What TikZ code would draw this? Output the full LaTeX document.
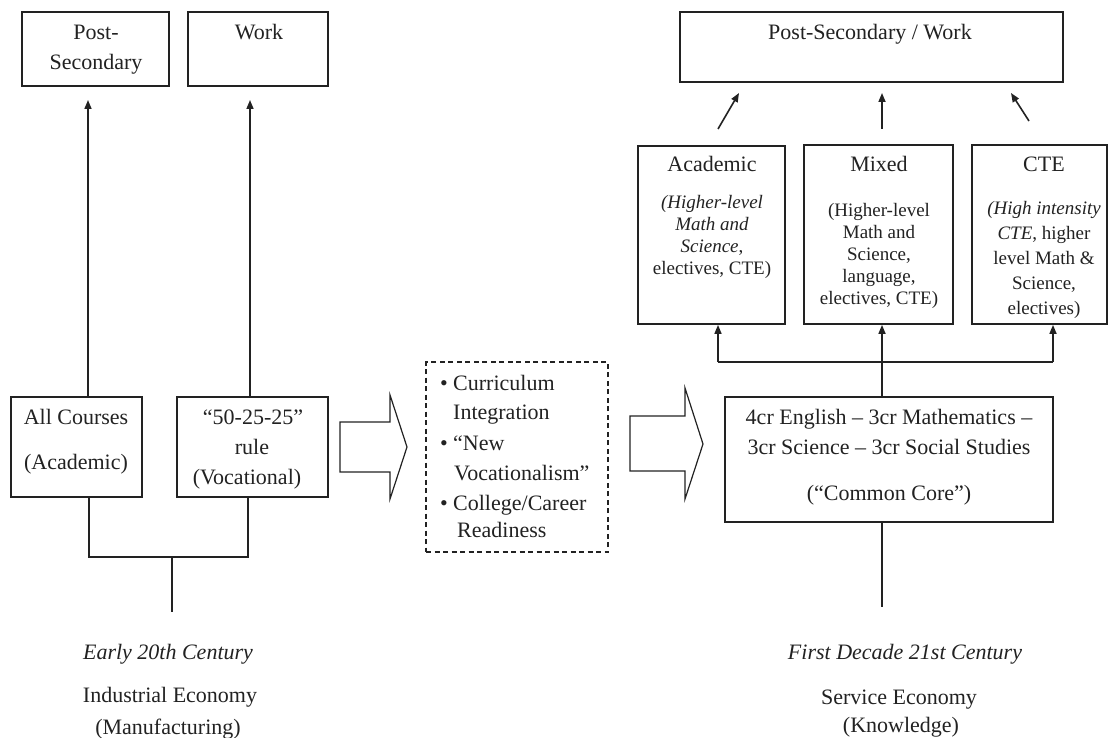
\documentclass[tikz,border=0pt]{standalone}
\usepackage{fontspec}
\setmainfont{Liberation Serif}
\usetikzlibrary{arrows.meta}
\definecolor{ink}{HTML}{222222}
\begin{document}
\begin{tikzpicture}[x=1pt,y=-1pt,
  box/.style={draw=ink, line width=1.8pt, inner sep=0pt, line join=miter},
  arr/.style={draw=ink, line width=1.6pt, -{Triangle[length=9pt,width=7pt]}},
  conn/.style={draw=ink, line width=1.6pt},
  blockarrow/.style={draw=ink, line width=1.2pt, line join=miter},
  txt/.style={anchor=base, inner sep=0pt, text=ink, font=\fontsize{22}{26}\selectfont},
  sm/.style={font=\fontsize{19}{22}\selectfont},
  lt/.style={anchor=base west}]
\fill[white] (0,0) rectangle (1109,738);
\useasboundingbox (0,0) rectangle (1109,738);

% ---------------- left: early 20th century ----------------
\node[box, minimum width=147pt, minimum height=74pt] (ps1) at (95.5,49) {};
\node[box, minimum width=140pt, minimum height=74pt] (wk1) at (258,49) {};
\node[box, minimum width=131pt, minimum height=100pt] (ac1) at (76.5,447) {};
\node[box, minimum width=151pt, minimum height=100pt] (voc1) at (252.5,447) {};

\node[txt] (tps1a) at (96,40) {Post-};
\node[txt] (tps1b) at (96,70) {Secondary};
\node[txt] (twk1) at (259,40) {Work};
\node[txt] (tac1a) at (76,424) {All Courses};
\node[txt] (tac1b) at (76,469) {(Academic)};
\node[txt] (tvoc1a) at (253,424) {“50-25-25”};
\node[txt] (tvoc1b) at (252,454) {rule};
\node[txt] (tvoc1c) at (247,484) {(Vocational)};

\coordinate (a1t) at (88,100);
\coordinate (a2t) at (250,100);
\draw[arr] (ac1.north -| a1t) -- (a1t);
\draw[arr] (voc1.north -| a2t) -- (a2t);

\coordinate (jl) at (89,557);
\coordinate (jr) at (248,557);
\coordinate (jm) at (172,557);
\coordinate (jb) at (172,612);
\draw[conn] (ac1.south -| jl) -- (jl) -- (jr) -- (voc1.south -| jr);
\draw[conn] (jm) -- (jb);

\node[txt] (tearly) at (168,659) {\itshape Early 20th Century};
\node[txt] (tind) at (170,702) {Industrial Economy};
\node[txt] (tman) at (168,734) {(Manufacturing)};

% ---------------- middle ----------------
\draw[blockarrow] (340,422) -- (390,422) -- (390,395) -- (407,447) -- (390,499) -- (390,472) -- (340,472) -- cycle;
\node[box, dash pattern=on 5pt off 3.5pt, line width=1.6pt, minimum width=182pt, minimum height=190pt] (mid) at (517,457) {};
\node[txt, lt] (b1) at (440,390) {\textbullet};
\node[txt, lt] (m1) at (453,390) {Curriculum};
\node[txt, lt] (m2) at (453,419) {Integration};
\node[txt, lt] (b2) at (440,450) {\textbullet};
\node[txt, lt] (m3) at (453,450) {“New};
\node[txt, lt] (m4) at (454,480) {Vocationalism”};
\node[txt, lt] (b3) at (440,510) {\textbullet};
\node[txt, lt] (m5) at (453,510) {College/Career};
\node[txt, lt] (m6) at (457,537) {Readiness};
\draw[blockarrow] (630,416) -- (685,416) -- (685,388) -- (703,444) -- (685,499) -- (685,471) -- (630,471) -- cycle;

% ---------------- right: first decade 21st century ----------------
\node[box, minimum width=383pt, minimum height=70pt] (psw) at (871.5,47) {};
\node[box, minimum width=147pt, minimum height=178pt] (acad) at (711.5,235) {};
\node[box, minimum width=149pt, minimum height=179pt] (mixed) at (878.5,234.5) {};
\node[box, minimum width=135pt, minimum height=179pt] (cte) at (1039.5,234.5) {};
\node[box, minimum width=328pt, minimum height=125pt] (core) at (889,459.5) {};

\node[txt] (tpsw) at (870,40) {Post-Secondary / Work};

\node[txt] (tacad) at (712,172) {Academic};
\node[txt, sm] (tacad1) at (712,209) {\itshape (Higher-level};
\node[txt, sm] (tacad2) at (712,231) {\itshape Math and};
\node[txt, sm] (tacad3) at (712,253) {{\itshape Science},};
\node[txt, sm] (tacad4) at (712,275) {electives, CTE)};

\node[txt] (tmix) at (879,172) {Mixed};
\node[txt, sm] (tmix1) at (879,217) {(Higher-level};
\node[txt, sm] (tmix2) at (879,239) {Math and};
\node[txt, sm] (tmix3) at (879,261) {Science,};
\node[txt, sm] (tmix4) at (879,283) {language,};
\node[txt, sm] (tmix5) at (879,305) {electives, CTE)};

\node[txt] (tcte) at (1044,172) {CTE};
\node[txt, sm] (tcte1) at (1044,215) {\itshape (High intensity};
\node[txt, sm] (tcte2) at (1044,240) {{\itshape CTE}, higher};
\node[txt, sm] (tcte3) at (1044,265) {level Math \&};
\node[txt, sm] (tcte4) at (1044,290) {Science,};
\node[txt, sm] (tcte5) at (1044,315) {electives)};

\node[txt] (tcore1) at (889,424) {4cr English – 3cr Mathematics –};
\node[txt] (tcore2) at (889,454) {3cr Science – 3cr Social Studies};
\node[txt] (tcore3) at (889,500) {(“Common Core”)};

% arrows to Post-Secondary / Work
\coordinate (u1s) at (718,129); \coordinate (u1e) at (739,93);
\coordinate (u2s) at (882,129); \coordinate (u2e) at (882,93);
\coordinate (u3s) at (1029,121); \coordinate (u3e) at (1011,93);
\draw[arr] (u1s) -- (u1e);
\draw[arr] (u2s) -- (u2e);
\draw[arr] (u3s) -- (u3e);

% branching from common core
\coordinate (h1) at (718,362);
\coordinate (h3) at (1053,362);
\coordinate (cb) at (882,607);
\draw[conn] (h1) -- (h3);
\draw[arr] (h1) -- (acad.south -| h1);
\draw[arr] (h3) -- (cte.south -| h3);
\draw[arr] (core.north -| cb) -- (mixed.south -| cb);
\draw[conn] (core.south -| cb) -- (cb);

\node[txt] (tfirst) at (905,659) {\itshape First Decade 21st Century};
\node[txt] (tserv) at (899,704) {Service Economy};
\node[txt] (tknow) at (901,732) {(Knowledge)};
\end{tikzpicture}
\end{document}
